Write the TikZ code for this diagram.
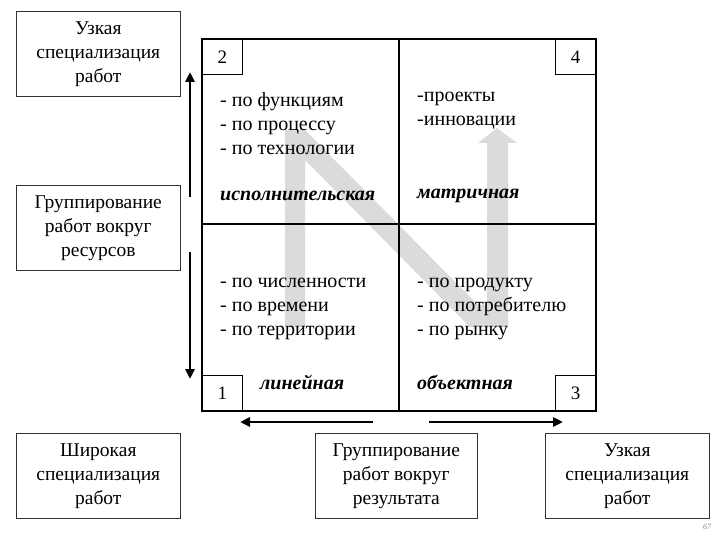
\documentclass[tikz,border=0pt]{standalone}
\usepackage{fontspec}
\setmainfont{Liberation Serif}
\usetikzlibrary{arrows.meta}
\begin{document}
\begin{tikzpicture}[x=1pt,y=-1pt,
  lbl/.style={draw=black!80,line width=0.6pt,minimum width=164pt,minimum height=85pt,align=center,font=\fontsize{19.5}{24}\selectfont,inner sep=0pt},
  num/.style={draw,line width=0.8pt,minimum width=40pt,minimum height=35pt,font=\fontsize{19}{20}\selectfont,inner sep=0pt},
  txt/.style={anchor=north west,align=left,font=\fontsize{20}{24}\selectfont,inner sep=0pt},
  ital/.style={anchor=west,font=\fontsize{20}{20}\selectfont\bfseries\itshape,inner sep=0pt},
  arr/.style={line width=2.6pt,-{Triangle[length=10pt,width=9pt]}}]
\useasboundingbox (0,0) rectangle (720,540);
% gray N
\fill[black!14] (285,327) -- (285,130) -- (305,130) -- (478,305) -- (487,305) -- (487,143) -- (478,143) -- (497,128) -- (517,143) -- (508,143) -- (508,327) -- (470,327) -- (305,160) -- (305,327) -- cycle;
% grid
\draw[line width=1.2pt] (202,39) rectangle (596,411);
\draw[line width=1.2pt] (399,39) -- (399,411);
\draw[line width=1.2pt] (202,224) -- (596,224);
\node[num,anchor=north west] (n2) at (202,39) {2};
\node[num,anchor=north east] (n4) at (596,39) {4};
\node[num,anchor=south west] (n1) at (202,411) {1};
\node[num,anchor=south east] (n3) at (596,411) {3};
\node[txt] (q2) at (220,92) {- по функциям\\- по процессу\\- по технологии};
\node[txt] (q4) at (417,92) {-проекты\\-инновации};
\node[txt] (q1) at (220,278) {- по численности\\- по времени\\- по территории};
\node[txt] (q3) at (417,278) {- по продукту\\- по потребителю\\- по рынку};
\node[ital] (t2) at (220,196) {исполнительская};
\node[ital] (t4) at (417,196) {матричная};
\node[ital] (t1) at (260,382) {линейная};
\node[ital] (t3) at (417,382) {объектная};
% side boxes
\node[lbl,anchor=north west] (b1) at (16,11) {Узкая\\специализация\\работ};
\node[lbl,anchor=north west] (b2) at (16,185) {Группирование\\работ вокруг\\ресурсов};
\node[lbl,anchor=north west] (b3) at (16,433) {Широкая\\специализация\\работ};
\node[lbl,anchor=north west,minimum width=162pt] (b4) at (315,433) {Группирование\\работ вокруг\\результата};
\node[lbl,anchor=north west] (b5) at (545,433) {Узкая\\специализация\\работ};
\coordinate (a1s) at (190,197); \coordinate (a1e) at (190,72);
\coordinate (a2s) at (190,252); \coordinate (a2e) at (190,379);
\coordinate (a3s) at (373,422); \coordinate (a3e) at (240,422);
\coordinate (a4s) at (429,422); \coordinate (a4e) at (563,422);
\draw[arr] (a1s) -- (a1e);
\draw[arr] (a2s) -- (a2e);
\draw[arr] (a3s) -- (a3e);
\draw[arr] (a4s) -- (a4e);
\node[font=\fontsize{8}{9}\selectfont\itshape,text=black!50] (pg) at (707,527) {67};
\end{tikzpicture}
\end{document}
